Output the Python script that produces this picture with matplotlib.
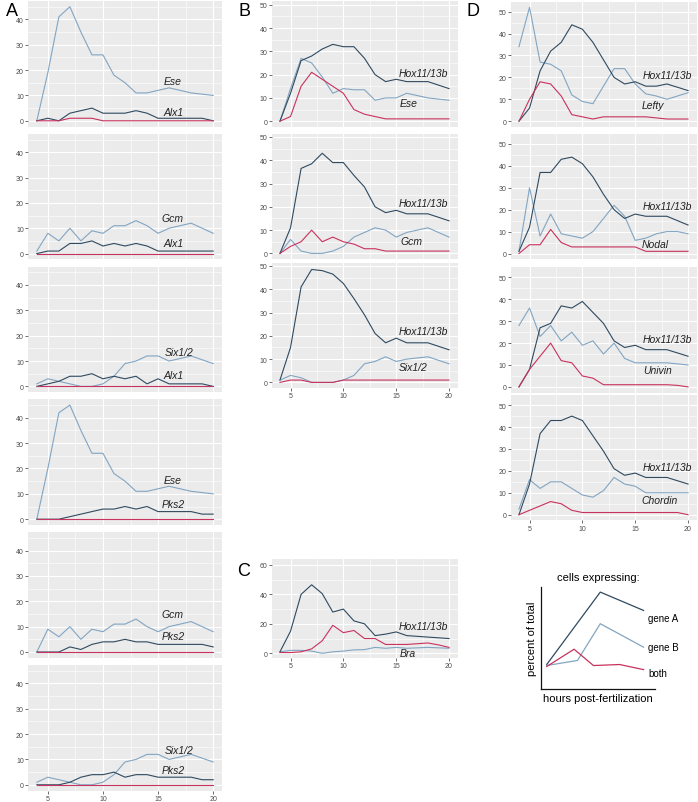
import matplotlib

matplotlib.use("Agg")
import matplotlib.pyplot as plt
from matplotlib.ticker import MultipleLocator

plt.rcParams["font.family"] = ["Liberation Sans", "DejaVu Sans"]

# hours post-fertilization
hours = list(range(4, 21))

# column A: gene pairs with expression in percent of total cells
a_ese = [0, 19, 41, 45, 35, 26, 26, 18, 15, 11, 11, 12, 13, 12, 11, 10.5, 10]
a_alx1_1 = [0, 1, 0, 3, 4, 5, 3, 3, 3, 4, 3, 1, 1, 1, 1, 1, 0]
a_both_1 = [0, 0, 0, 1, 1, 1, 0, 0, 0, 0, 0, 0, 0, 0, 0, 0, 0]
a_gcm = [1, 8, 5, 10, 5, 9, 8, 11, 11, 13, 11, 8, 10, 11, 12, 10, 8]
a_alx1_2 = [0, 1, 1, 4, 4, 5, 3, 4, 3, 4, 3, 1, 1, 1, 1, 1, 1]
a_six = [1, 3, 2, 1, 0, 0, 1, 4, 9, 10, 12, 12, 10, 11, 12, 10.5, 9]
a_alx1_3 = [0, 1, 2, 4, 4, 5, 3, 4, 3, 4, 1, 3, 1, 1, 1, 1, 0]
a_ese_4 = [0, 20, 42, 45, 35, 26, 26, 18, 15, 11, 11, 12, 13, 12, 11, 10.5, 10]
a_pks2_4 = [0, 0, 0, 1, 2, 3, 4, 4, 5, 4, 5, 3, 3, 3, 3, 2, 2]
a_gcm_5 = [0, 9, 6, 10, 5, 9, 8, 11, 11, 13, 10, 8, 10, 11, 12, 10, 8]
a_pks2_5 = [0, 0, 0, 2, 1, 3, 4, 4, 5, 4, 4, 3, 3, 3, 3, 3, 2]
a_six_6 = [1, 3, 2, 1, 0, 0, 1, 4, 9, 10, 12, 12, 10, 11, 12, 10.5, 9]
a_pks2_6 = [0, 0, 0, 1, 3, 4, 4, 5, 3, 4, 4, 3, 3, 3, 3, 2, 2]
zeros = [0] * 17

# column B: Hox11/13b with a second gene
b_hox_1 = [0, 12, 26, 28, 31, 33, 32, 32, 27, 20, 17, 18, 17, 17, 17, 15.5, 14]
b_ese = [0, 14, 27, 25, 19, 12, 14, 13.5, 13.5, 9, 10, 10, 12, 11, 10, 9.5, 9]
b_both_1 = [0, 2, 15, 21, 18, 15, 12, 5, 3, 2, 1, 1, 1, 1, 1, 1, 1]
b_hox_2 = [0, 11, 36.5, 38.5, 43, 39, 39, 33.5, 28.5, 20, 17.5, 18.5, 17, 17, 17, 15.5, 14]
b_gcm = [0, 6, 1, 0, 0, 1, 3, 7, 9, 11, 10, 7, 9, 10, 11, 9, 7]
b_both_2 = [0, 3, 5, 10, 5, 7, 5, 4, 2, 2, 1, 1, 1, 1, 1, 1, 1]
b_hox_3 = [1, 15, 41, 48.5, 48, 46.5, 42.5, 36, 29, 21, 17, 19, 17, 17, 17, 15.5, 14]
b_six = [1, 3, 2, 0, 0, 0, 1, 3, 8, 9, 11, 9, 10, 10.5, 11, 9.5, 8]
b_both_3 = [0, 1, 1, 0, 0, 0, 1, 1, 1, 1, 1, 1, 1, 1, 1, 1, 1]

# column C
c_hox = [1, 15, 40, 46.5, 40.5, 28, 30, 22, 20, 12, 13, 14.5, 12, 11.5, 11, 10.5, 10]
c_bra = [1, 2, 2, 1.5, 0, 1, 1.5, 2.3, 2.5, 4, 3.4, 4, 3.4, 3.7, 4, 3.7, 3.4]
c_both = [0.5, 0.5, 1, 3, 8.5, 19, 14, 15.5, 10, 10, 6, 6, 6, 6.5, 7, 5.7, 4]

# column D
d_hox_1 = [0, 6, 23, 32, 36, 44, 42, 36, 28, 20, 17, 18, 16, 16, 17, 15.5, 14]
d_lefty = [34, 52, 27, 26, 23, 12, 9, 8, 16, 24, 24, 17, 12.5, 11.5, 10, 11.5, 13]
d_both_1 = [0, 10, 18, 17, 11.5, 3, 2, 1, 2, 2, 2, 2, 2, 1.5, 1, 1, 1]
d_hox_2 = [1, 12, 37, 37, 43, 44, 41, 35, 27, 20, 16, 18, 17, 17, 17, 15, 13]
d_nodal = [1, 30, 8, 18, 9, 8, 7, 10, 16, 22, 17, 6, 7, 9, 10, 10, 9]
d_both_2 = [0, 4, 4, 11, 5, 3, 3, 3, 3, 3, 3, 3, 1, 1, 1, 1, 1]
d_hox_3 = [0, 8, 27, 29, 37, 36, 39, 34, 29, 21, 18, 19, 17, 17, 17, 15.5, 14]
d_univin = [28, 36, 23, 28, 21, 25, 19, 21, 15, 20, 13, 11, 11, 11, 11, 10.5, 10]
d_both_3 = [0, 8, 14, 20, 12, 11, 5, 4, 1, 1, 1, 1, 1, 1, 1, 0.7, 0]
d_hox_4 = [0, 14, 37, 43, 43, 45, 43, 36, 29, 21, 18, 19, 17, 17, 17, 15.5, 14]
d_chordin = [2.5, 16, 12, 15, 15, 12, 9, 8, 11, 17, 14, 13, 10, 10, 10, 10, 10]
d_both_4 = [0, 2, 4, 6, 5, 2, 1, 1, 1, 1, 1, 1, 1, 1, 1, 1, 0]

# schematic key (arbitrary units)
key_x_a = [0.05, 0.52, 0.9]
key_a = [0.24, 0.95, 0.77]
key_x_b = [0.05, 0.32, 0.52, 0.9]
key_b = [0.23, 0.28, 0.64, 0.41]
key_x_both = [0.05, 0.29, 0.46, 0.69, 0.9]
key_both = [0.22, 0.39, 0.23, 0.24, 0.19]

DARK = "#2f4a60"
LIGHT = "#82a5c2"
RED = "#c8325e"
W, H = 698, 803


def _add_axes(fig, left, top, right, bottom):
    return fig.add_axes([left / W, 1 - bottom / H, (right - left) / W, (bottom - top) / H])


def _panel(ax, dark, light, both, ylim, ystep, labels, show_x):
    ax.set_facecolor("#ebebeb")
    for s in ax.spines.values():
        s.set_visible(False)
    ax.plot(hours, light, color=LIGHT, lw=0.8)
    ax.plot(hours, dark, color=DARK, lw=0.8)
    ax.plot(hours, both, color=RED, lw=0.8)
    ax.set_xlim(3.2, 20.8)
    ax.set_ylim(*ylim)
    ax.xaxis.set_major_locator(MultipleLocator(5))
    ax.xaxis.set_minor_locator(MultipleLocator(2.5))
    ax.yaxis.set_major_locator(MultipleLocator(ystep))
    ax.yaxis.set_minor_locator(MultipleLocator(ystep / 2))
    ax.grid(True, which="major", color="white", lw=0.8)
    ax.grid(True, which="minor", color="white", lw=0.4)
    ax.set_axisbelow(True)
    ax.tick_params(which="minor", length=0)
    ax.tick_params(which="major", length=2, width=0.5, color="#333333",
                   labelsize=5, labelcolor="#4d4d4d", pad=1)
    if not show_x:
        ax.tick_params(axis="x", which="major", length=0, labelbottom=False)
    for text, x, y in labels:
        ax.text(x, y, text, style="italic", fontsize=7.5, ha="center", va="center", color="#222222")


def main() -> None:
    fig = plt.figure(figsize=(W / 100, H / 100), dpi=100)

    a_ylim = (-2.25, 47.25)
    a_rows = [
        (a_alx1_1, a_ese, a_both_1, [("Ese", 16.3, 15.5), ("Alx1", 16.4, 3.5)]),
        (a_alx1_2, a_gcm, zeros, [("Gcm", 16.3, 14), ("Alx1", 16.4, 4)]),
        (a_alx1_3, a_six, zeros, [("Six1/2", 16.9, 13.7), ("Alx1", 16.4, 4.5)]),
        (a_pks2_4, a_ese_4, zeros, [("Ese", 16.3, 15.5), ("Pks2", 16.4, 6)]),
        (a_pks2_5, a_gcm_5, zeros, [("Gcm", 16.3, 15), ("Pks2", 16.4, 6.5)]),
        (a_pks2_6, a_six_6, zeros, [("Six1/2", 16.9, 13.7), ("Pks2", 16.4, 6)]),
    ]
    for i, (dark, light, both, labels) in enumerate(a_rows):
        top = 2 + i * 132.8
        ax = _add_axes(fig, 28, top, 222, top + 125.5)
        _panel(ax, dark, light, both, a_ylim, 10, labels, i == len(a_rows) - 1)

    b_ylim = (-2.45, 51.45)
    b_rows = [
        (b_hox_1, b_ese, b_both_1, [("Hox11/13b", 17.6, 20.6), ("Ese", 16.2, 7.7)], 2.4),
        (b_hox_2, b_gcm, b_both_2, [("Hox11/13b", 17.6, 21.7), ("Gcm", 16.4, 5.3)], 134.6),
        (b_hox_3, b_six, b_both_3, [("Hox11/13b", 17.6, 22), ("Six1/2", 16.6, 6.8)], 263.6),
    ]
    for i, (dark, light, both, labels, top) in enumerate(b_rows):
        ax = _add_axes(fig, 271.5, top, 457.5, top + 125.5)
        _panel(ax, dark, light, both, b_ylim, 10, labels, i == len(b_rows) - 1)

    ax = _add_axes(fig, 271.5, 560, 457.5, 659)
    _panel(ax, c_hox, c_bra, c_both, (-3.2, 64), 20,
           [("Hox11/13b", 17.6, 18.3), ("Bra", 16.1, 0)], True)

    d_ylim = (-2.6, 54.6)
    d_rows = [
        (d_hox_1, d_lefty, d_both_1, [("Hox11/13b", 18, 21), ("Lefty", 16.7, 7.3)], 2.6),
        (d_hox_2, d_nodal, d_both_2, [("Hox11/13b", 18, 21.6), ("Nodal", 16.9, 4.2)], 134.9),
        (d_hox_3, d_univin, d_both_3, [("Hox11/13b", 18, 21.7), ("Univin", 17.1, 7.6)], 268.3),
        (d_hox_4, d_chordin, d_both_4, [("Hox11/13b", 18, 21.9), ("Chordin", 17.35, 6.8)], 396.1),
    ]
    for i, (dark, light, both, labels, top) in enumerate(d_rows):
        ax = _add_axes(fig, 510.5, top, 696.5, top + 125.3)
        _panel(ax, dark, light, both, d_ylim, 10, labels, i == len(d_rows) - 1)

    for letter, x, y in [("A", 6, 11), ("B", 238, 11), ("C", 237, 572), ("D", 467, 11)]:
        fig.text(x / W, 1 - y / H, letter, fontsize=13, ha="left", va="center")

    # schematic key
    key = _add_axes(fig, 541, 588, 655, 690)
    key.set_xlim(0, 1)
    key.set_ylim(0, 1)
    key.patch.set_visible(False)
    for side in ("top", "right"):
        key.spines[side].set_visible(False)
    for side in ("left", "bottom"):
        key.spines[side].set_linewidth(0.9)
        key.spines[side].set_color("#111111")
    key.set_xticks([])
    key.set_yticks([])
    key.plot(key_x_a, key_a, color=DARK, lw=0.9)
    key.plot(key_x_b, key_b, color=LIGHT, lw=0.9)
    key.plot(key_x_both, key_both, color=RED, lw=0.9)
    key.text(0.94, 0.70, "gene A", fontsize=7, va="center")
    key.text(0.94, 0.41, "gene B", fontsize=7, va="center")
    key.text(0.94, 0.16, "both", fontsize=7, va="center")
    key.set_title("cells expressing:", fontsize=8, pad=5)
    key.set_ylabel("percent of total", fontsize=8, labelpad=3)
    key.set_xlabel("hours post-fertilization", fontsize=8, labelpad=3)

    fig.savefig("out.png", dpi=100)


if __name__ == "__main__":
    main()
